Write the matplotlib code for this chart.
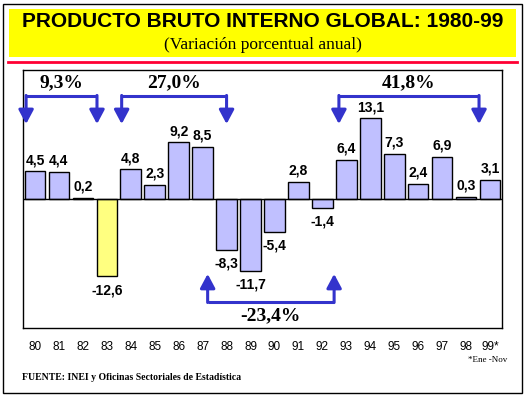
import matplotlib
matplotlib.use("Agg")
from matplotlib import pyplot as plt
from matplotlib.patches import Rectangle
from matplotlib.lines import Line2D

# datos del grafico
years = ['80', '81', '82', '83', '84', '85', '86', '87', '88', '89',
         '90', '91', '92', '93', '94', '95', '96', '97', '98', '99*']
growth = [4.5, 4.4, 0.2, -12.6, 4.8, 2.3, 9.2, 8.5, -8.3, -11.7,
          -5.4, 2.8, -1.4, 6.4, 13.1, 7.3, 2.4, 6.9, 0.3, 3.1]
highlight = '83'

# llaves acumuladas por periodo
span_labels = ['9,3%', '27,0%', '41,8%', '-23,4%']
span_start = [-0.37, 3.62, 12.69, 7.21]
span_end = [2.59, 8.0, 18.54, 12.49]
span_side = [1, 1, 1, -1]

sans = 'Liberation Sans'
serif = 'Liberation Serif'
blue = '#3333CC'

fig = plt.figure(figsize=(5.27, 3.97), dpi=100)

# marco, cabecera amarilla y linea roja
fig.patches.append(Rectangle((0.0066, 0.0101), 0.984, 0.981, transform=fig.transFigure,
                             fill=False, edgecolor='black', lw=1))
fig.patches.append(Rectangle((0.0171, 0.8564), 0.962, 0.121, transform=fig.transFigure,
                             facecolor='#FFFF00', edgecolor='none'))
fig.lines.append(Line2D([0.0152, 0.981], [0.8438, 0.8438], transform=fig.transFigure,
                        color='#FF0033', lw=2))
fig.text(0.499, 0.946, 'PRODUCTO BRUTO INTERNO GLOBAL: 1980-99', ha='center', va='center',
         family=sans, weight='bold', fontsize=15)
fig.text(0.499, 0.8866, '(Variación porcentual anual)', ha='center', va='center',
         family=serif, fontsize=12.5)

ax = fig.add_axes([0.0436, 0.1738, 0.909, 0.65])
x = list(range(len(years)))
colors = ['#FFFF80' if y == highlight else '#C0C0FF' for y in years]
ax.bar(x, growth, width=0.86, color=colors, edgecolor='black', linewidth=1, zorder=2)
ax.axhline(0, color='black', lw=1, zorder=3)

for i, v in zip(x, growth):
    lab = f'{v:.1f}'.replace('.', ',')
    if v >= 0:
        ax.text(i, v + 0.7, lab, ha='center', va='bottom', family=sans,
                weight='bold', fontsize=10)
    else:
        ax.text(i, v - 1.1, lab, ha='center', va='top', family=sans,
                weight='bold', fontsize=10)

# llaves con flechas
for lab, x0, x1, s in zip(span_labels, span_start, span_end, span_side):
    ybar = 16.7 * s
    ytip = 12.2 * s
    ax.plot([x0, x1], [ybar, ybar], color=blue, lw=2.2, clip_on=False,
            solid_capstyle='butt', zorder=4)
    for xx in (x0, x1):
        ax.annotate('', xy=(xx, ytip), xytext=(xx, ybar + 0.15 * s),
                    arrowprops=dict(arrowstyle='-|>,head_width=0.32,head_length=0.6',
                                    color=blue, lw=2.2, mutation_scale=14,
                                    shrinkA=0, shrinkB=0), zorder=4)
    xm = (x0 + x1) / 2
    ax.text(xm, 19.0 if s > 0 else -19.0, lab, ha='center', va='center',
            family=serif, weight='bold', fontsize=14)

ax.set_xlim(-0.5, len(years) - 0.5)
ax.set_ylim(-21, 21)
ax.set_xticks(x)
ax.set_xticklabels(years, family=sans, fontsize=8.5)
ax.tick_params(axis='x', length=0, pad=9)
ax.set_yticks([])
for sp in ax.spines.values():
    sp.set_color('black')
    sp.set_linewidth(1)

fig.text(0.962, 0.093, '*Ene -Nov', ha='right', va='center', family=serif, fontsize=6.5)
fig.text(0.042, 0.05, 'FUENTE: INEI y Oficinas Sectoriales de Estadística', ha='left',
         va='center', family=serif, weight='bold', fontsize=7)

fig.savefig('out.png', dpi=100)
